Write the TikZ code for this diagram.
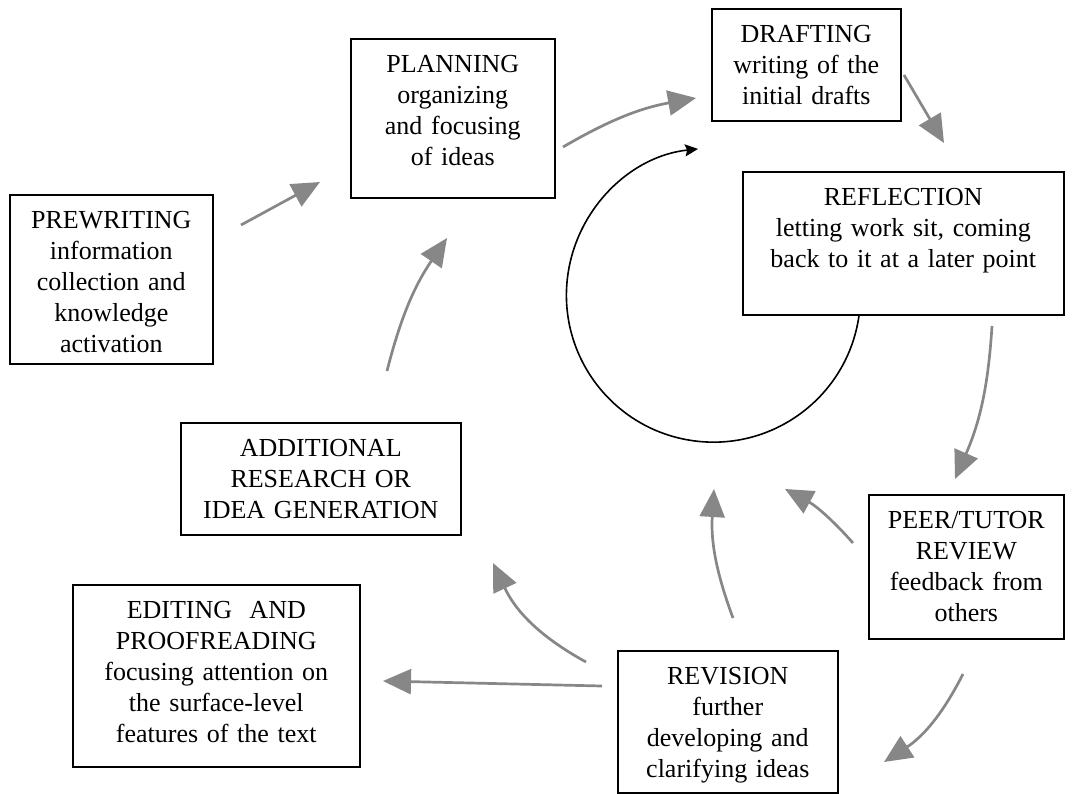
\documentclass[tikz,border=0pt]{standalone}
\usepackage{fontspec}
\setmainfont{Liberation Serif}
\usetikzlibrary{arrows.meta}
\definecolor{arrowgray}{HTML}{878787}
\newcommand{\stagefont}{\fontsize{13}{15.5}\selectfont}
\tikzset{
  stagebox/.style   = {draw, line width=0.8pt, anchor=north west, align=center,
                       font=\stagefont, inner xsep=2pt, inner ysep=0pt, text height=17pt},
  stagearrow/.style = {-{Triangle[length=14pt, width=12.5pt]}, line width=1.35pt, draw=arrowgray},
  loopline/.style   = {-{Stealth[length=6.5pt, width=6pt, inset=1pt]}, line width=0.8pt},
}
\begin{document}
\begin{tikzpicture}[x=0.5pt, y=-0.5pt]
  \useasboundingbox (0,0) rectangle (1073,794);

  % stages
  \node[stagebox, text width=97.5pt, text depth=67.5pt] (prewriting) at (9,194)
    {PREWRITING\\information\\collection and\\knowledge\\activation};
  \node[stagebox, text width=98pt, text depth=62.5pt] (planning) at (350,38)
    {PLANNING\\organizing\\and focusing\\of ideas};
  \node[stagebox, text width=90.5pt, text depth=39pt] (drafting) at (711,8)
    {DRAFTING\\writing of the\\initial drafts};
  \node[stagebox, text width=156.5pt, text depth=54.5pt] (reflection) at (742,171)
    {REFLECTION\\letting work sit, coming\\back to it at a later point};
  \node[stagebox, text width=136pt, text depth=39pt] (additional) at (180,422)
    {ADDITIONAL\\RESEARCH OR\\IDEA GENERATION};
  \node[stagebox, text width=139.5pt, text depth=74pt] (editing) at (72,584)
    {EDITING\ \ AND\\PROOFREADING\\focusing attention on\\the surface-level\\features of the text};
  \node[stagebox, text width=93.5pt, text depth=55pt] (peer) at (868,494)
    {PEER/TUTOR\\REVIEW\\feedback from\\others};
  \node[stagebox, text width=106pt, text depth=54pt] (revision) at (617,650)
    {REVISION\\further\\developing and\\clarifying ideas};

  % arrow ends
  \coordinate (prew-out) at (241,225);   \coordinate (plan-in) at (320,182);
  \coordinate (add-out) at (387,371);    \coordinate (plan-in2) at (447,238);
  \coordinate (plan-out) at (563,147);   \coordinate (draft-in) at (696,98);
  \coordinate (draft-out) at (904,75);   \coordinate (refl-in) at (944,143);
  \coordinate (refl-out) at (992,326);   \coordinate (peer-in) at (955,479);
  \coordinate (peer-out) at (963,674);   \coordinate (rev-in) at (884,762);
  \coordinate (peer-back) at (853,543);  \coordinate (hub-a) at (785,489);
  \coordinate (rev-up) at (733,618);     \coordinate (hub-b) at (714,489);
  \coordinate (rev-back) at (586,662);   \coordinate (add-in) at (493,563);
  \coordinate (rev-left) at (602,686);   \coordinate (edit-in) at (383,681);

  \draw[stagearrow] (prew-out) -- (plan-in);
  \draw[stagearrow] (add-out) to[bend left=10] (plan-in2);
  \draw[stagearrow] (plan-out) to[bend left=10] (draft-in);
  \draw[stagearrow] (draft-out) -- (refl-in);
  \draw[stagearrow] (refl-out) to[bend left=10] (peer-in);
  \draw[stagearrow] (peer-out) to[bend left=15] (rev-in);
  \draw[stagearrow] (peer-back) to[bend right=10] (hub-a);
  \draw[stagearrow] (rev-up) to[bend left=12] (hub-b);
  \draw[stagearrow] (rev-back) to[bend left=18] (add-in);
  \draw[stagearrow] (rev-left) -- (edit-in);

  % inner cycle
  \draw[loopline] (reflection.south west) ++(117,0)
    arc[start angle=-8, end angle=-264, radius=73.5pt];
\end{tikzpicture}
\end{document}
